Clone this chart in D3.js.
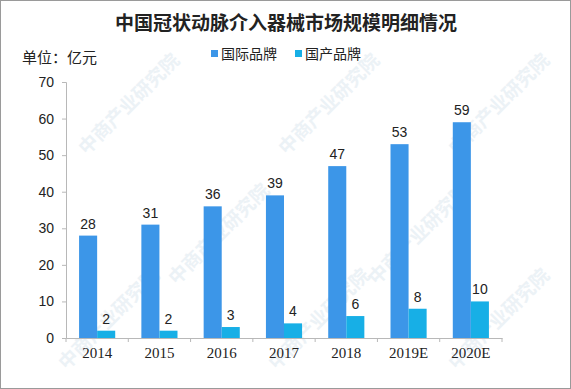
<!DOCTYPE html>
<html>
<head>
<meta charset="utf-8">
<script src="https://cdn.jsdelivr.net/npm/d3@7"></script>
<style>
  body { margin: 0; background: #fff; }
  svg { display: block; }
</style>
</head>
<body>
<div id="wrapper"></div>
<script>
const years = ["2014", "2015", "2016", "2017", "2018", "2019E", "2020E"]
const intlBrand = [28, 31, 36, 39, 47, 53, 59]
const domesticBrand = [2, 2, 3, 4, 6, 8, 10]
const seriesNames = ["国际品牌", "国产品牌"]
const yTicks = [0, 10, 20, 30, 40, 50, 60, 70]

const colors = ["#3c96e8", "#17afe6"]

const dimensions = {
  width: 571,
  height: 389,
  margin: { top: 82, right: 69, bottom: 51, left: 66 },
}
dimensions.boundedWidth = dimensions.width - dimensions.margin.left - dimensions.margin.right
dimensions.boundedHeight = dimensions.height - dimensions.margin.top - dimensions.margin.bottom

const wrapper = d3.select("#wrapper")
  .append("svg")
  .attr("width", dimensions.width)
  .attr("height", dimensions.height)

wrapper.append("rect")
  .attr("x", 0.5).attr("y", 0.5)
  .attr("width", dimensions.width - 1)
  .attr("height", dimensions.height - 1)
  .attr("fill", "#fff")
  .attr("stroke", "#9a9a9a")

// faint watermark, kept inside the frame
const marks = [[130, 105], [330, 105], [500, 105], [220, 235], [420, 235], [110, 320], [320, 320], [500, 320]]
wrapper.append("g")
  .selectAll("text")
  .data(marks)
  .join("text")
  .attr("transform", d => `translate(${d[0]},${d[1]}) rotate(-45)`)
  .attr("text-anchor", "middle")
  .attr("dominant-baseline", "middle")
  .attr("font-family", "Noto Sans CJK SC")
  .attr("font-size", 19)
  .attr("font-weight", "bold")
  .attr("fill", "#dde8f0")
  .attr("opacity", 0.55)
  .text("中商产业研究院")

const bounds = wrapper.append("g")
  .attr("transform", `translate(${dimensions.margin.left},${dimensions.margin.top})`)

const xScale = d3.scaleBand()
  .domain(years)
  .range([0, dimensions.boundedWidth])
  .paddingInner(0.42)
  .paddingOuter(0.21)

const subScale = d3.scaleBand()
  .domain([0, 1])
  .range([0, xScale.bandwidth()])

const yScale = d3.scaleLinear()
  .domain([0, 70])
  .range([dimensions.boundedHeight, 0])

const yAxis = d3.axisLeft(yScale)
  .tickValues(yTicks)
  .tickSize(4)
  .tickPadding(8)

const yAxisGroup = bounds.append("g").call(yAxis)
yAxisGroup.select(".domain").attr("stroke", "#b8b8b8")
yAxisGroup.selectAll(".tick line").attr("stroke", "#b8b8b8")
yAxisGroup.selectAll("text")
  .attr("font-family", "Liberation Sans, Arial")
  .attr("font-size", 14)
  .attr("fill", "#222")

const xAxis = d3.axisBottom(xScale).tickSize(0).tickPadding(9)
const xAxisGroup = bounds.append("g")
  .attr("transform", `translate(0,${dimensions.boundedHeight})`)
  .call(xAxis)
xAxisGroup.select(".domain").attr("stroke", "#b8b8b8")
xAxisGroup.selectAll("text")
  .attr("font-family", "Liberation Serif, Times New Roman")
  .attr("font-size", 15)
  .attr("fill", "#222")

// category boundary ticks
const step = xScale.step()
bounds.append("g")
  .selectAll("line")
  .data(d3.range(years.length + 1))
  .join("line")
  .attr("x1", i => i * step)
  .attr("x2", i => i * step)
  .attr("y1", dimensions.boundedHeight)
  .attr("y2", dimensions.boundedHeight + 4)
  .attr("stroke", "#b8b8b8")

const rows = years.map((y, i) => ({ year: y, values: [intlBrand[i], domesticBrand[i]] }))

const groups = bounds.selectAll(".group")
  .data(rows)
  .join("g")
  .attr("class", "group")
  .attr("transform", d => `translate(${xScale(d.year)},0)`)

groups.selectAll("rect")
  .data(d => d.values.map((v, k) => ({ v, k })))
  .join("rect")
  .attr("x", d => subScale(d.k))
  .attr("width", subScale.bandwidth())
  .attr("y", d => yScale(d.v))
  .attr("height", d => dimensions.boundedHeight - yScale(d.v))
  .attr("fill", d => colors[d.k])

groups.selectAll(".value")
  .data(d => d.values.map((v, k) => ({ v, k })))
  .join("text")
  .attr("class", "value")
  .attr("x", d => subScale(d.k) + subScale.bandwidth() / 2)
  .attr("y", d => yScale(d.v) - 7)
  .attr("text-anchor", "middle")
  .attr("font-family", "Liberation Sans, Arial")
  .attr("font-size", 14)
  .attr("fill", "#222")
  .text(d => d.v)

// title
wrapper.append("text")
  .attr("x", 286)
  .attr("y", 30)
  .attr("text-anchor", "middle")
  .attr("font-family", "Noto Sans CJK SC")
  .attr("font-weight", "bold")
  .attr("font-size", 19)
  .attr("fill", "#222")
  .text("中国冠状动脉介入器械市场规模明细情况")

wrapper.append("text")
  .attr("x", 22)
  .attr("y", 63)
  .attr("font-family", "Noto Sans CJK SC")
  .attr("font-size", 15)
  .attr("fill", "#222")
  .text("单位：亿元")

// legend
const legendX = [211, 295]
const legend = wrapper.append("g")
  .selectAll("g")
  .data(seriesNames)
  .join("g")
  .attr("transform", (d, i) => `translate(${legendX[i]},54)`)

legend.append("rect")
  .attr("x", 0).attr("y", -4)
  .attr("width", 7).attr("height", 7)
  .attr("fill", (d, i) => colors[i])

legend.append("text")
  .attr("x", 10)
  .attr("y", 5)
  .attr("font-family", "Noto Sans CJK SC")
  .attr("font-size", 14)
  .attr("fill", "#222")
  .text(d => d)
</script>
</body>
</html>
